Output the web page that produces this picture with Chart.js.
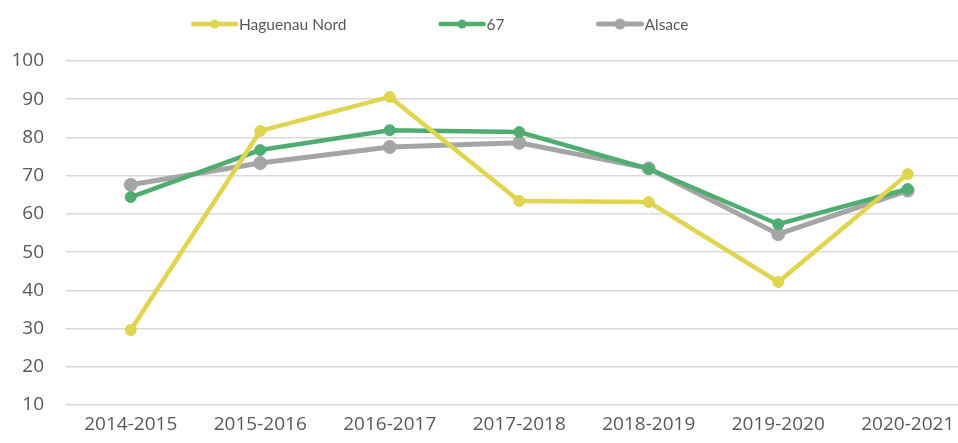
<!DOCTYPE html>
<html><head><meta charset="utf-8">
<script src="https://cdn.jsdelivr.net/npm/chart.js@4"></script>
<style>html,body{margin:0;padding:0;background:#fff;overflow:hidden;width:958px;height:443px}#wrap{width:980px;height:443px}</style>
</head><body><div id="wrap"><canvas id="c" width="980" height="443"></canvas></div>
<script>
const categories = ["2014-2015","2015-2016","2016-2017","2017-2018","2018-2019","2019-2020","2020-2021"];
const haguenauNord = [29.6, 81.7, 90.6, 63.4, 63.1, 42.2, 70.4];
const dept67 = [64.4, 76.7, 81.9, 81.4, 71.8, 57.3, 66.5];
const alsace = [67.6, 73.3, 77.5, 78.6, 71.9, 54.7, 66.1];
const yTicks = [10,20,30,40,50,60,70,80,90,100];
const seriesNames = ["Haguenau Nord","67","Alsace"];

const FONT = "'Open Sans', 'DejaVu Sans', sans-serif";
const LFONT = "Lato, 'Open Sans', sans-serif";

const legendPlugin = {
  id: 'lineLegend',
  afterDraw(chart) {
    const ctx = chart.ctx;
    ctx.save();
    ctx.font = "15.5px " + LFONT;
    ctx.textBaseline = 'middle';
    let x = 193;
    const y = 24;
    chart.data.datasets.forEach(ds => {
      ctx.strokeStyle = ds.borderColor;
      ctx.lineWidth = ds.borderWidth;
      ctx.lineCap = 'round';
      ctx.beginPath(); ctx.moveTo(x, y); ctx.lineTo(x + 43, y); ctx.stroke();
      ctx.fillStyle = ds.borderColor;
      ctx.beginPath(); ctx.arc(x + 21.5, y, ds.pointRadius - 1, 0, Math.PI * 2); ctx.fill();
      ctx.fillStyle = '#595959';
      ctx.fillText(ds.label, x + 46, y + 1);
      x += 46 + ctx.measureText(ds.label).width + 94;
    });
    ctx.restore();
  }
};

const mk = (label, data, color, w, r) => ({
  label, data, borderColor: color, backgroundColor: color,
  pointBackgroundColor: color, pointBorderColor: color, pointBorderWidth: 1,
  borderWidth: w, pointRadius: r, pointHoverRadius: r, tension: 0
});

new Chart(document.getElementById('c'), {
  type: 'line',
  data: {
    labels: categories,
    datasets: [
      mk(seriesNames[0], haguenauNord, '#E0D54F', 4.5, 5.5),
      mk(seriesNames[1], dept67, '#4FAD72', 4.5, 5.5),
      mk(seriesNames[2], alsace, '#A5A5A5', 5, 6.5)
    ]
  },
  options: {
    responsive: false,
    devicePixelRatio: 1,
    animation: false,
    layout: { padding: { top: 61, left: 0, right: 0, bottom: 0 } },
    plugins: { legend: { display: false }, tooltip: { enabled: false } },
    scales: {
      x: {
        offset: true,
        grid: { display: false, drawTicks: false },
        border: { display: false },
        ticks: { color: '#595959', font: { family: FONT, size: 19 }, padding: 8, maxRotation: 0, autoSkip: false },
        afterFit(s) { s.height = 38; }
      },
      y: {
        min: 10, max: 100,
        afterBuildTicks(s) { s.ticks = yTicks.map(v => ({ value: v })); },
        grid: { color: '#D9D9D9', lineWidth: 1.5, drawTicks: false },
        border: { display: false },
        ticks: { color: '#595959', font: { family: FONT, size: 19 }, padding: 22 },
        afterFit(s) { s.width = 66; }
      }
    }
  },
  plugins: [legendPlugin]
});
</script></body></html>
